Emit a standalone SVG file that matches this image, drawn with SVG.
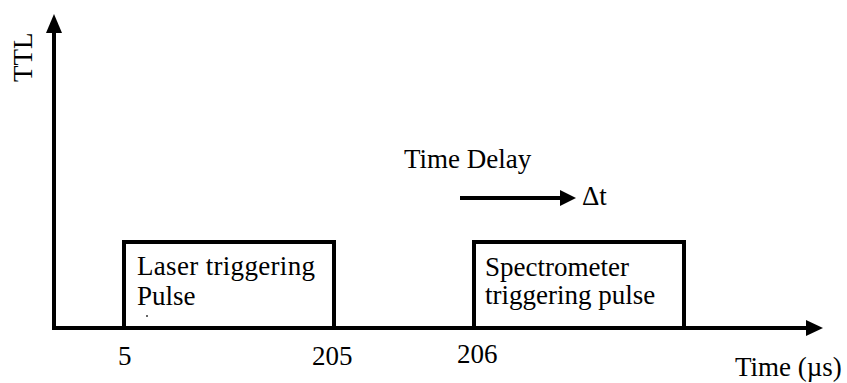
<svg xmlns="http://www.w3.org/2000/svg" width="847" height="383" viewBox="0 0 847 383">
<style>
.t{font-family:"Liberation Serif","Times New Roman","DejaVu Serif",serif;font-size:27px;fill:#000}
.ln{stroke:#000;stroke-width:4;fill:none}
</style>
<rect width="847" height="383" fill="#fff"/>
<g id="connectors">
<path class="ln" d="M54,330 V32"/>
<polygon points="54,14 46,33 62,33" fill="#000"/>
<path class="ln" d="M52,328 H808"/>
<polygon points="823,328 806,320 806,336" fill="#000"/>
<path class="ln" d="M460,198 H562"/>
<polygon points="576,198 560,190 560,206" fill="#000"/>
</g>
<g id="axis-labels" font-family="Liberation Serif, Times New Roman, serif">
<text class="t" transform="translate(32,82) rotate(-90)">TTL</text>
<text class="t" x="735" y="376">Time (µs)</text>
<text class="t" x="118" y="365">5</text>
<text class="t" x="312" y="365">205</text>
<text class="t" x="457" y="363">206</text>
</g>
<g id="laser-pulse" font-family="Liberation Serif, Times New Roman, serif">
<path class="ln" d="M124,328 V242 H334 V328"/>
<text class="t" x="137" y="275" textLength="178">Laser triggering</text>
<text class="t" x="137" y="305">Pulse</text>
<circle cx="147" cy="316" r="1" fill="#333"/>
</g>
<g id="spectrometer-pulse" font-family="Liberation Serif, Times New Roman, serif">
<path class="ln" d="M474,328 V242 H684 V328"/>
<text class="t" x="485" y="276">Spectrometer</text>
<text class="t" x="485" y="304">triggering pulse</text>
</g>
<g id="time-delay" font-family="Liberation Serif, Times New Roman, serif">
<text class="t" x="404" y="168">Time Delay</text>
<text class="t" x="582" y="205">Δt</text>
</g>
</svg>
